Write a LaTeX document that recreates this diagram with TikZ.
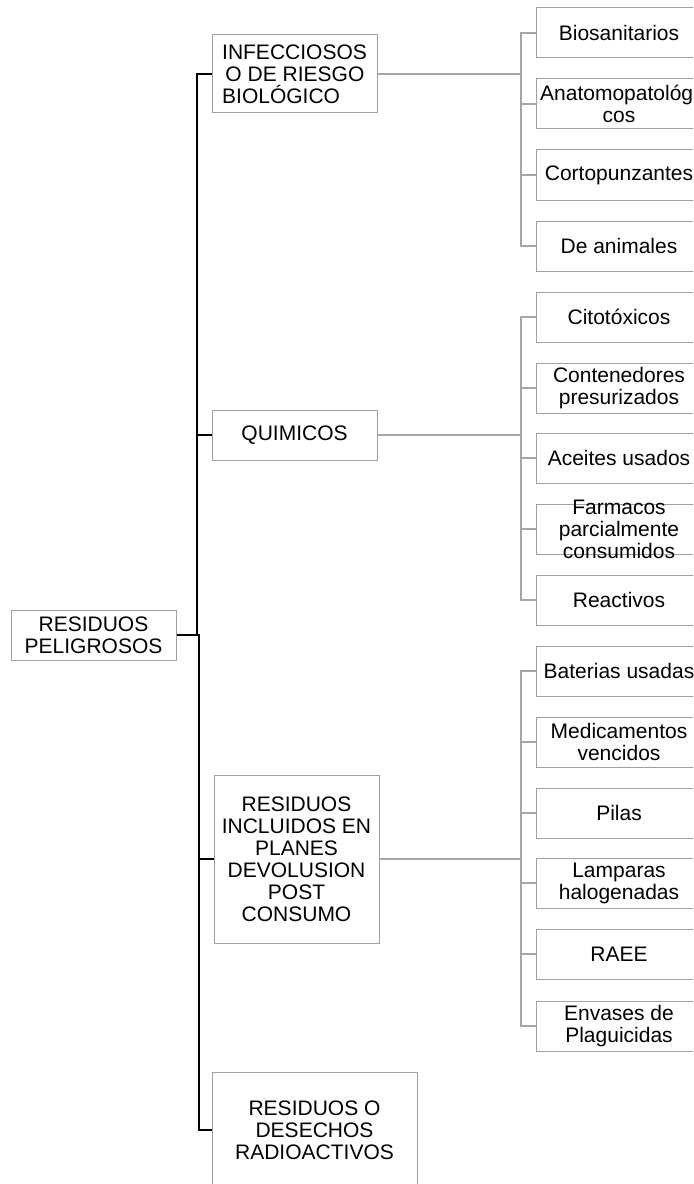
\documentclass[tikz,border=0pt]{standalone}
\usepackage{fontspec}
\setmainfont{Liberation Sans}
\usepackage{tikz}
\definecolor{boxline}{RGB}{160,160,160}
\definecolor{linegray}{RGB}{166,166,166}
\tikzset{
  box/.style={draw=boxline, line width=0.75pt, fill=white, inner sep=0pt,
    minimum width=123.75pt, minimum height=37.5pt, align=center,
    font=\fontsize{15.75}{16.5}\selectfont},
  leaf/.style={box, minimum width=124.5pt},
  txt/.style={inner sep=0pt, align=center, font=\fontsize{15.75}{16.5}\selectfont},
  conn/.style={line width=1.5pt},
  sub/.style={draw=linegray, line width=1.5pt}
}

\begin{document}
\begin{tikzpicture}[x=0.75pt, y=-0.75pt]
  \useasboundingbox (0,0) rectangle (693,1184);
  \clip (0,0) rectangle (693,1184);
  % root and main groups
  \node[box] (root) at (93.5,635) {RESIDUOS\\PELIGROSOS};
  \node[box, minimum height=58.5pt, align=left] (inf) at (294.5,74) {INFECCIOSOS\\\hspace{2.5pt}O DE RIESGO\\BIOLÓGICO};
  \node[box] (qui) at (294.5,435) {QUIMICOS};
  \node[box, minimum height=126pt] (pos) at (296.5,859) {RESIDUOS\\INCLUIDOS EN\\PLANES\\DEVOLUSION\\POST\\CONSUMO};
  \node[box, minimum width=153.75pt, minimum height=87pt] (rad) at (314.5,1130) {RESIDUOS O\\DESECHOS\\RADIOACTIVOS};

  \draw[conn] (root.east) -- ++(20,0) |- (inf.west);
  \draw[conn] (root.east) -- ++(20,0) |- (qui.west);
  \draw[conn] (root.east) -- ++(22,0) |- (pos.west);
  \draw[conn] (root.east) -- ++(22,0) |- (rad.west);

  % infecciosos
  \node[leaf] (bio) at (619,33) {Biosanitarios};
  \node[leaf] (ana) at (619,104) {Anatomopatológi\\cos};
  \node[leaf] (cor) at (619,175) {Cortopunzantes};
  \node[leaf] (ani) at (619,246) {De animales};
  \draw[sub] (inf.east) -- ++(143,0) coordinate (b1);
  \draw[sub] (b1) |- (bio.west);
  \draw[sub] (b1) |- (ana.west);
  \draw[sub] (b1) |- (cor.west);
  \draw[sub] (b1) |- (ani.west);

  % quimicos
  \node[leaf] (cit) at (619,317) {Citotóxicos};
  \node[leaf] (con) at (619,388) {Contenedores\\presurizados};
  \node[leaf] (ace) at (619,458) {Aceites usados};
  \node[leaf] (far) at (619,529) {};
  \node[txt] at (far) {Farmacos\\parcialmente\\consumidos};
  \node[leaf] (rea) at (619,600) {Reactivos};
  \draw[sub] (qui.east) -- ++(143,0) coordinate (b2);
  \draw[sub] (b2) |- (cit.west);
  \draw[sub] (b2) |- (con.west);
  \draw[sub] (b2) |- (ace.west);
  \draw[sub] (b2) |- (far.west);
  \draw[sub] (b2) |- (rea.west);

  % post consumo
  \node[leaf] (bat) at (619,671) {Baterias usadas};
  \node[leaf] (med) at (619,742) {Medicamentos\\vencidos};
  \node[leaf] (pil) at (619,813) {Pilas};
  \node[leaf] (lam) at (619,883) {Lamparas\\halogenadas};
  \node[leaf] (rae) at (619,954) {RAEE};
  \node[leaf] (env) at (619,1026) {Envases de\\Plaguicidas};
  \draw[sub] (pos.east) -- ++(141,0) coordinate (b3);
  \draw[sub] (b3) |- (bat.west);
  \draw[sub] (b3) |- (med.west);
  \draw[sub] (b3) |- (pil.west);
  \draw[sub] (b3) |- (lam.west);
  \draw[sub] (b3) |- (rae.west);
  \draw[sub] (b3) |- (env.west);
\end{tikzpicture}
\end{document}
